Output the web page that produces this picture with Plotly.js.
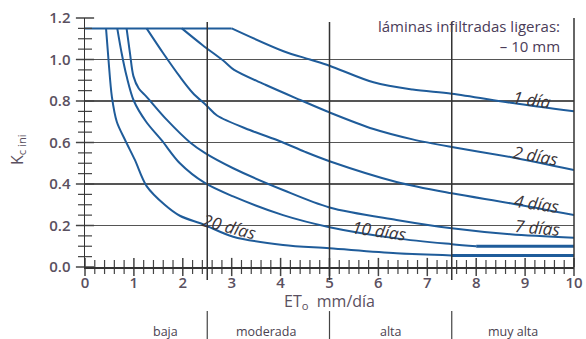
<!DOCTYPE html>
<html>
<head>
<meta charset="utf-8">
<script src="https://cdn.plot.ly/plotly-3.0.1.min.js"></script>
<style>html,body{margin:0;padding:0;background:#fff;}#chart{width:586px;height:339px;}</style>
</head>
<body>
<div id="chart"></div>
<script>
// ---- data ----
const seriesNames = ["1 día", "2 días", "4 días", "7 días", "10 días", "20 días"];
const topX = [0, 3.0];
const topY = [1.15, 1.15];
const x1 = [3.0, 4.06, 4.6, 5.0, 5.9, 6.7, 7.5, 8.75, 10];
const y1 = [1.15, 1.04, 1.0, 0.97, 0.89, 0.855, 0.835, 0.79, 0.75];
const x2 = [1.98, 2.4, 2.85, 3.05, 3.7, 4.4, 5.0, 5.9, 6.7, 7.5, 8.7, 10];
const y2 = [1.15, 1.07, 0.99, 0.95, 0.877, 0.805, 0.745, 0.665, 0.615, 0.578, 0.53, 0.467];
const x4 = [1.26, 1.6, 1.94, 2.2, 2.5, 2.7, 3.37, 4.0, 4.5, 5.0, 6.37, 7.5, 8.7, 10];
const y4 = [1.15, 1.03, 0.917, 0.84, 0.775, 0.73, 0.66, 0.605, 0.555, 0.51, 0.41, 0.355, 0.307, 0.25];
const x7 = [0.85, 0.92, 0.99, 1.1, 1.26, 1.67, 2.15, 2.45, 3.03, 4.05, 5.0, 6.37, 7.5, 8.7, 10];
const y7 = [1.15, 1.03, 0.92, 0.86, 0.82, 0.71, 0.6, 0.55, 0.476, 0.371, 0.287, 0.227, 0.187, 0.158, 0.141];
const x10 = [0.66, 0.75, 0.85, 1.0, 1.25, 1.57, 1.94, 2.45, 3.03, 4.05, 5.0, 6.37, 7.5, 8.0];
const y10 = [1.15, 1.03, 0.92, 0.80, 0.70, 0.61, 0.5, 0.405, 0.34, 0.25, 0.192, 0.138, 0.11, 0.1];
const x10flat = [8.0, 10];
const y10flat = [0.1, 0.1];
const x20 = [0.43, 0.48, 0.55, 0.65, 0.82, 1.02, 1.26, 1.63, 1.94, 2.42, 3.03, 4.05, 5.0, 6.37, 7.5];
const y20 = [1.15, 1.0, 0.82, 0.7, 0.612, 0.516, 0.39, 0.3, 0.247, 0.205, 0.146, 0.106, 0.09, 0.066, 0.056];
const x20flat = [7.5, 10];
const y20flat = [0.056, 0.056];

const labelX = [9.14, 9.22, 9.24, 9.26, 6.01, 2.95];
const labelY = [0.807, 0.535, 0.304, 0.19, 0.175, 0.193];
const labelAngle = [8, 10, 8, 5, 8, 15];

const zoneBounds = [2.5, 5, 7.5];
const zoneNames = ["baja", "moderada", "alta", "muy alta"];
const zoneLabelX = [1.65, 3.7, 6.25, 8.75];

const xTicks = [0,1,2,3,4,5,6,7,8,9,10];
const yTicks = [0,0.2,0.4,0.6,0.8,1.0,1.2];
const xMinorStep = 0.2;
const yMinorStep = 0.05;

// ---- plot ----
const blue = "#1f5c9a";
const tickColor = "#444";
const fam = "Open Sans, sans-serif";
const curve = (x, y, w, spline) => ({x: x, y: y, mode: "lines",
  line: {color: blue, width: w || 2, shape: spline ? "spline" : "linear", smoothing: 0.9},
  hoverinfo: "skip", showlegend: false});

// crossing tick marks built from the tick arrays
const xMinor = [], yMinor = [];
for (let i = 0; i < xTicks.length - 1; i++) for (let k = 1; k < 5; k++) xMinor.push(+(xTicks[i] + k * xMinorStep).toFixed(2));
for (let i = 0; i < yTicks.length - 1; i++) for (let k = 1; k < 4; k++) yMinor.push(+(yTicks[i] + k * yMinorStep).toFixed(3));
const tickMarks = (x, y, sym, size, w) => ({x: x, y: y, mode: "markers", cliponaxis: false, hoverinfo: "skip", showlegend: false,
  marker: {symbol: sym, size: size, color: tickColor, line: {color: tickColor, width: w}}});

const traces = [
  curve(topX, topY, 2, false),
  curve(x1, y1, 2, true), curve(x2, y2, 2, true), curve(x4, y4, 2, true), curve(x7, y7, 2, true),
  curve(x10, y10, 2, true), curve(x10flat, y10flat, 3, false),
  curve(x20, y20, 2, true), curve(x20flat, y20flat, 3, false),
  tickMarks(xTicks, xTicks.map(() => 0), "line-ns", 13, 1.5),
  tickMarks(xMinor, xMinor.map(() => 0), "line-ns", 10, 1.2),
  tickMarks(yTicks.map(() => 0), yTicks, "line-ew", 13, 1.5),
  tickMarks(yMinor.map(() => 0), yMinor, "line-ew", 10, 1.2)
];

const tickFont = {family: fam, size: 15, color: "#5a5060", weight: 600};
const shapes = [];
zoneBounds.forEach(b => {
  shapes.push({type: "line", xref: "x", yref: "paper", x0: b, x1: b, y0: -0.052, y1: 0.984, line: {color: "#333", width: 1.5}});
  shapes.push({type: "line", xref: "x", yref: "paper", x0: b, x1: b, y0: -0.177, y1: -0.29, line: {color: "#444", width: 1.2}});
});
shapes.push({type: "line", xref: "paper", yref: "paper", x0: 1, x1: 1, y0: 0, y1: 1, line: {color: "#333", width: 1.5}});

const annotations = [];
seriesNames.forEach((n, i) => {
  annotations.push({x: labelX[i], y: labelY[i], xref: "x", yref: "y", text: n, showarrow: false,
    textangle: labelAngle[i], font: {family: fam, size: 17, color: "#3a3438", style: "italic"}});
});
zoneNames.forEach((n, i) => {
  annotations.push({x: zoneLabelX[i], y: -0.258, xref: "x", yref: "paper", xanchor: "center", yanchor: "middle",
    text: n, showarrow: false, font: {family: fam, size: 12.5, color: "#4a4250"}});
});
annotations.push({x: 5, y: -0.14, xref: "x", yref: "paper", xanchor: "center", yanchor: "middle",
  text: "ET<sub>o</sub>  mm/día", showarrow: false,
  font: {family: fam, size: 16, color: "#5a5060"}});
annotations.push({x: -0.137, y: 0.47, xref: "paper", yref: "paper", xanchor: "center", yanchor: "middle",
  text: "K<sub>c ini</sub>", showarrow: false, textangle: -90,
  font: {family: fam, size: 16, color: "#5a5060"}});
annotations.push({x: 9.75, y: 1.113, xref: "x", yref: "y", xanchor: "right", yanchor: "middle", align: "right",
  text: "láminas infiltradas ligeras:<br>– 10 mm", showarrow: false,
  font: {family: fam, size: 15, color: "#4a3c58"}});

const layout = {
  width: 586, height: 339,
  margin: {l: 85, r: 12, t: 18, b: 72},
  paper_bgcolor: "#fff", plot_bgcolor: "#fff",
  showlegend: false,
  xaxis: {range: [0, 10], tickvals: xTicks, ticktext: xTicks.map(String), ticks: "", ticklabelstandoff: 1,
    showgrid: false, zeroline: false, showline: true, linecolor: "#333", linewidth: 1.5,
    tickfont: tickFont, fixedrange: true},
  yaxis: {range: [0, 1.2], tickvals: yTicks, ticktext: yTicks.map(v => v.toFixed(1)), ticks: "", ticklabelstandoff: 10,
    showgrid: true, gridcolor: "#555", gridwidth: 1.3, zeroline: false, showline: true, linecolor: "#333", linewidth: 1.5,
    tickfont: tickFont, fixedrange: true},
  shapes: shapes,
  annotations: annotations
};

Plotly.newPlot("chart", traces, layout, {staticPlot: true, displayModeBar: false});
</script>
</body>
</html>
